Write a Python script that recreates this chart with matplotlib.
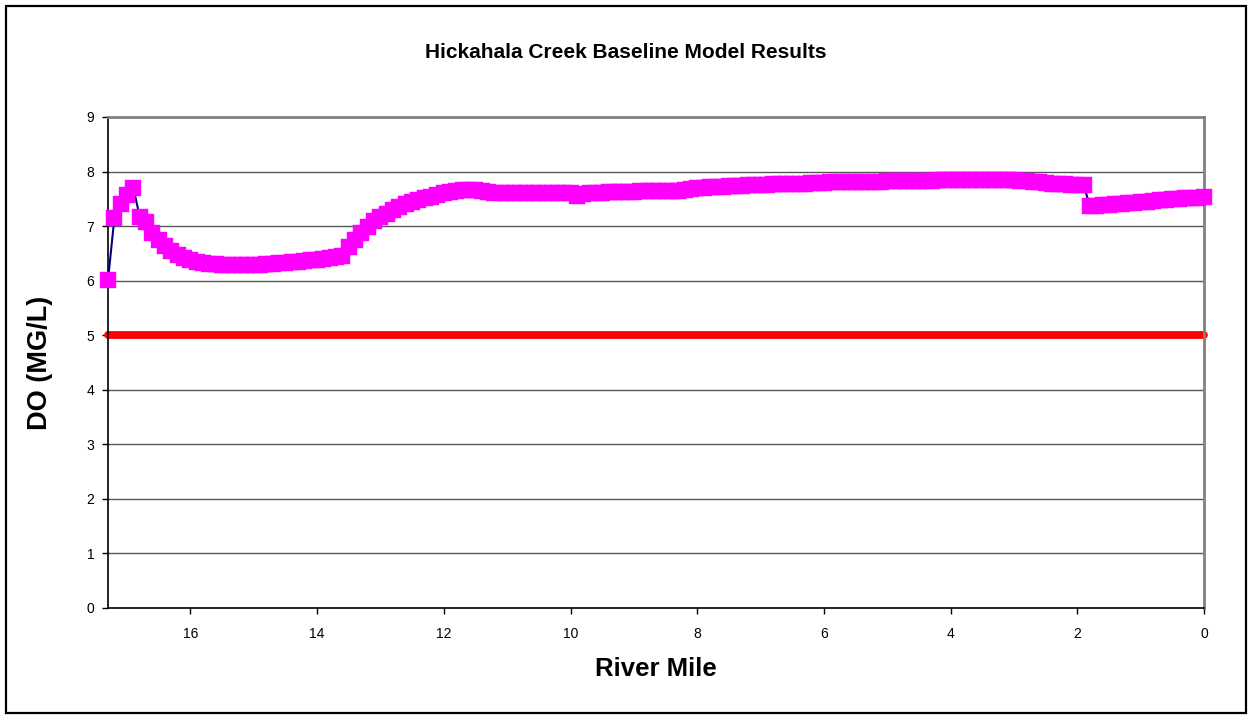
import matplotlib
matplotlib.use("Agg")
import matplotlib.pyplot as plt
import matplotlib.patches as patches

plt.rcParams['font.family'] = ['Liberation Sans', 'DejaVu Sans']

# river mile of each model segment
river_mile = [
    17.3, 17.2, 17.1, 17.0, 16.9, 16.8, 16.7, 16.6, 16.5, 16.4,
    16.3, 16.2, 16.1, 16.0, 15.9, 15.8, 15.7, 15.6, 15.5, 15.4,
    15.3, 15.2, 15.1, 15.0, 14.9, 14.8, 14.7, 14.6, 14.5, 14.4,
    14.3, 14.2, 14.1, 14.0, 13.9, 13.8, 13.7, 13.6, 13.5, 13.4,
    13.3, 13.2, 13.1, 13.0, 12.9, 12.8, 12.7, 12.6, 12.5, 12.4,
    12.3, 12.2, 12.1, 12.0, 11.9, 11.8, 11.7, 11.6, 11.5, 11.4,
    11.3, 11.2, 11.1, 11.0, 10.9, 10.8, 10.7, 10.6, 10.5, 10.4,
    10.3, 10.2, 10.1, 10.0, 9.9, 9.8, 9.7, 9.6, 9.5, 9.4,
    9.3, 9.2, 9.1, 9.0, 8.9, 8.8, 8.7, 8.6, 8.5, 8.4,
    8.3, 8.2, 8.1, 8.0, 7.9, 7.8, 7.7, 7.6, 7.5, 7.4,
    7.3, 7.2, 7.1, 7.0, 6.9, 6.8, 6.7, 6.6, 6.5, 6.4,
    6.3, 6.2, 6.1, 6.0, 5.9, 5.8, 5.7, 5.6, 5.5, 5.4,
    5.3, 5.2, 5.1, 5.0, 4.9, 4.8, 4.7, 4.6, 4.5, 4.4,
    4.3, 4.2, 4.1, 4.0, 3.9, 3.8, 3.7, 3.6, 3.5, 3.4,
    3.3, 3.2, 3.1, 3.0, 2.9, 2.8, 2.7, 2.6, 2.5, 2.4,
    2.3, 2.2, 2.1, 2.0, 1.9, 1.8, 1.7, 1.6, 1.5, 1.4,
    1.3, 1.2, 1.1, 1.0, 0.9, 0.8, 0.7, 0.6, 0.5, 0.4,
    0.3, 0.2, 0.1, 0.0,
]

# modelled dissolved oxygen (mg/L)
do_model = [
    6.02, 7.15, 7.41, 7.57, 7.70, 7.17, 7.08, 6.88, 6.75, 6.63,
    6.54, 6.47, 6.42, 6.38, 6.35, 6.33, 6.31, 6.30, 6.29, 6.29,
    6.28, 6.28, 6.28, 6.29, 6.29, 6.30, 6.31, 6.32, 6.33, 6.34,
    6.35, 6.36, 6.37, 6.38, 6.40, 6.41, 6.43, 6.45, 6.62, 6.75,
    6.88, 6.99, 7.09, 7.17, 7.23, 7.29, 7.35, 7.40, 7.44, 7.47,
    7.51, 7.54, 7.57, 7.60, 7.62, 7.64, 7.66, 7.67, 7.67, 7.64,
    7.62, 7.61, 7.61, 7.61, 7.61, 7.61, 7.61, 7.61, 7.61, 7.61,
    7.61, 7.61, 7.61, 7.61, 7.56, 7.59, 7.60, 7.61, 7.61, 7.62,
    7.62, 7.63, 7.63, 7.63, 7.64, 7.64, 7.65, 7.65, 7.65, 7.65,
    7.64, 7.66, 7.68, 7.69, 7.70, 7.71, 7.71, 7.72, 7.73, 7.73,
    7.74, 7.75, 7.75, 7.76, 7.76, 7.77, 7.77, 7.77, 7.78, 7.78,
    7.78, 7.79, 7.79, 7.79, 7.80, 7.80, 7.80, 7.80, 7.81, 7.81,
    7.81, 7.81, 7.81, 7.82, 7.82, 7.82, 7.82, 7.82, 7.83, 7.83,
    7.83, 7.84, 7.84, 7.84, 7.84, 7.84, 7.84, 7.85, 7.85, 7.85,
    7.85, 7.85, 7.85, 7.84, 7.83, 7.82, 7.81, 7.80, 7.79, 7.78,
    7.77, 7.77, 7.76, 7.76, 7.75, 7.36, 7.37, 7.38, 7.39, 7.40,
    7.41, 7.42, 7.43, 7.44, 7.45, 7.46, 7.47, 7.48, 7.49, 7.50,
    7.51, 7.51, 7.52, 7.53,
]

# DO standard
standard_mile = [17.3, 0.0]
standard_do = [5.0, 5.0]

y_ticks = [0, 1, 2, 3, 4, 5, 6, 7, 8, 9]
x_ticks = [16, 14, 12, 10, 8, 6, 4, 2, 0]

fig = plt.figure(figsize=(12.52, 7.19), dpi=100)
ax = fig.add_axes([0.0863, 0.1544, 0.8754, 0.6829])

for y in y_ticks[1:-1]:
    ax.axhline(y, color='#555555', linewidth=1.0, zorder=1)

ax.plot(standard_mile, standard_do, color='#ff0000', linewidth=5.6,
        solid_capstyle='round', zorder=2, clip_on=False)

ax.plot(river_mile, do_model, color='#000080', linewidth=1.5, zorder=3)
ax.plot(river_mile, do_model, linestyle='none', marker='s', markersize=11.3,
        markerfacecolor='#ff00ff', markeredgecolor='#ff00ff',
        markeredgewidth=0.3, zorder=4, clip_on=False)

ax.set_xlim(17.3, 0)
ax.set_ylim(0, 9)
ax.set_xticks(x_ticks)
ax.set_yticks(y_ticks)
ax.tick_params(axis='both', direction='out', length=4, width=1, labelsize=10, color='black')
ax.tick_params(axis='x', pad=10)
ax.tick_params(axis='y', pad=6)

ax.spines['left'].set_color('black')
ax.spines['bottom'].set_color('black')
ax.spines['left'].set_linewidth(1.2)
ax.spines['bottom'].set_linewidth(1.2)
ax.spines['top'].set_color('#808080')
ax.spines['right'].set_color('#808080')
ax.spines['top'].set_linewidth(2)
ax.spines['right'].set_linewidth(2)

ax.set_xlabel("River Mile", fontsize=18.5, fontweight='bold', labelpad=11)
ax.set_ylabel("DO (MG/L)", fontsize=19.5, fontweight='bold', labelpad=24)
fig.text(0.5, 0.927, "Hickahala Creek Baseline Model Results",
         fontsize=15, fontweight='bold', ha='center', va='center')

# chart frame
frame = patches.Rectangle((6 / 1252, 6 / 719), 1240 / 1252, 707 / 719,
                          transform=fig.transFigure, fill=False,
                          edgecolor='black', linewidth=1.6)
fig.patches.append(frame)

fig.savefig("out.png", dpi=100)
